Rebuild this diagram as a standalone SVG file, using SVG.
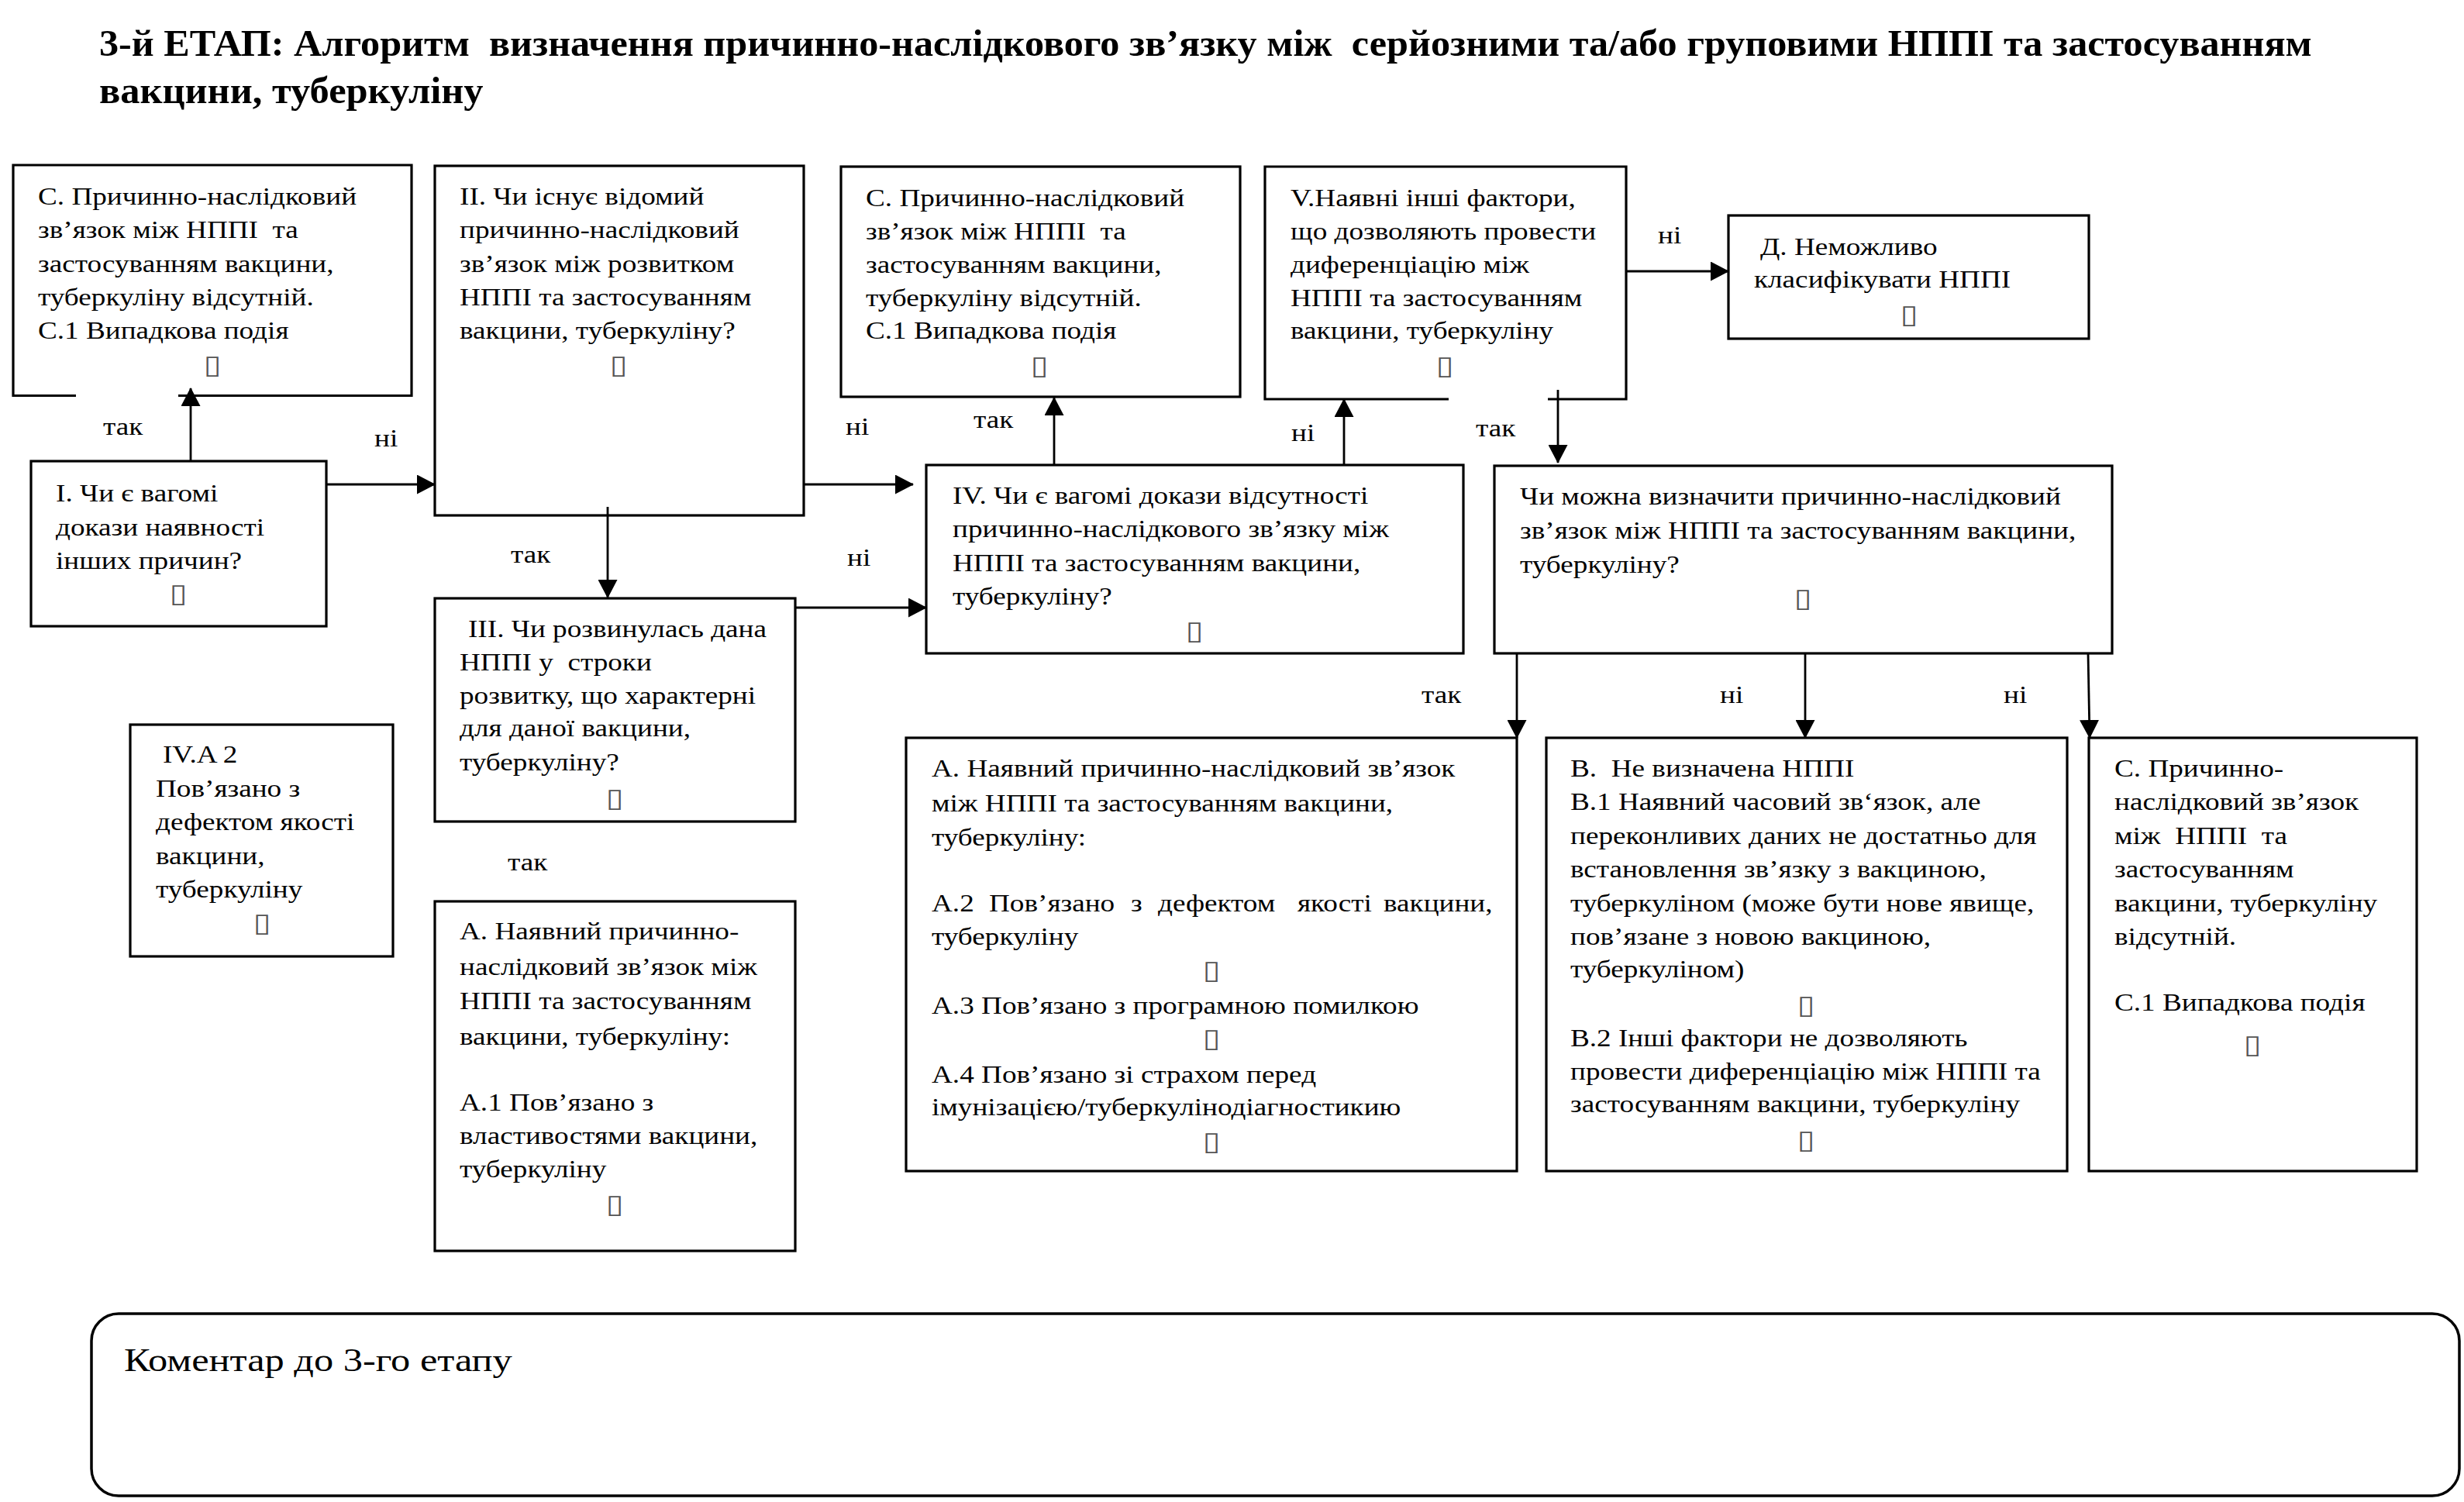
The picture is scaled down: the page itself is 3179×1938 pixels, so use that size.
<svg xmlns="http://www.w3.org/2000/svg" width="3179" height="1938" viewBox="0 0 3179 1938">
<style>
.box{fill:#fff;stroke:#000;stroke-width:3.2}
.conn{fill:none;stroke:#000;stroke-width:2.8;marker-end:url(#ah)}
.t{font-family:"Liberation Serif","Times New Roman",serif;font-size:31px;fill:#000;white-space:pre}
.title{font-weight:bold;font-size:48.5px}
.cm{font-size:42px}
.tofu{font-family:"DejaVu Sans",sans-serif;font-size:34px;fill:#555;text-anchor:middle}
</style>
<defs>
<marker id="ah" viewBox="0 0 24 25" refX="23" refY="12.5" markerWidth="24" markerHeight="25" markerUnits="userSpaceOnUse" orient="auto"><path d="M0,0 L24,12.5 L0,25 z" fill="#000"/></marker>
</defs>
<rect width="3179" height="1938" fill="#fff"/>

<g id="title" transform="scale(1.04,1)">
<text class="t title" x="123.08" y="72" textLength="2745" lengthAdjust="spacingAndGlyphs">3-й ЕТАП: Алгоритм  визначення причинно-наслідкового зв’язку між  серйозними та/або груповими НППІ та застосуванням</text>
<text class="t title" x="123.08" y="133">вакцини, туберкуліну</text>
</g>

<g id="nodeC1">
<path class="box" d="M98,510.5 L17,510.5 L17,213 L531,213 L531,510.5 L230,510.5"/>
<g transform="scale(1.2,1)">
<text class="t" x="40.83" y="264">С. Причинно-наслідковий</text>
<text class="t" x="40.83" y="307.5">зв’язок між НППІ  та</text>
<text class="t" x="40.83" y="351">застосуванням вакцини,</text>
<text class="t" x="40.83" y="394">туберкуліну відсутній.</text>
<text class="t" x="40.83" y="437">С.1 Випадкова подія</text>
<text class="tofu" x="228.33" y="482">▯</text>
</g>
</g>

<g id="nodeII">
<rect class="box" x="561" y="214" width="476" height="451"/>
<g transform="scale(1.2,1)">
<text class="t" x="494.17" y="264">II. Чи існує відомий</text>
<text class="t" x="494.17" y="307.5">причинно-наслідковий</text>
<text class="t" x="494.17" y="351">зв’язок між розвитком</text>
<text class="t" x="494.17" y="394">НППІ та застосуванням</text>
<text class="t" x="494.17" y="437">вакцини, туберкуліну?</text>
<text class="tofu" x="665" y="482">▯</text>
</g>
</g>

<g id="nodeI">
<rect class="box" x="40" y="595" width="381" height="213"/>
<g transform="scale(1.2,1)">
<text class="t" x="60" y="647">I. Чи є вагомі</text>
<text class="t" x="60" y="691">докази наявності</text>
<text class="t" x="60" y="734">інших причин?</text>
<text class="tofu" x="191.67" y="777">▯</text>
</g>
</g>

<g id="nodeIII">
<rect class="box" x="561" y="772" width="465" height="288"/>
<g transform="scale(1.2,1)">
<text class="t" x="503.33" y="822">III. Чи розвинулась дана</text>
<text class="t" x="494.17" y="865">НППІ у  строки</text>
<text class="t" x="494.17" y="908">розвитку, що характерні</text>
<text class="t" x="494.17" y="950">для даної вакцини,</text>
<text class="t" x="494.17" y="994">туберкуліну?</text>
<text class="tofu" x="660.83" y="1041">▯</text>
</g>
</g>

<g id="nodeA1">
<rect class="box" x="561" y="1163" width="465" height="451"/>
<g transform="scale(1.2,1)">
<text class="t" x="494.17" y="1212">А. Наявний причинно-</text>
<text class="t" x="494.17" y="1258">наслідковий зв’язок між</text>
<text class="t" x="494.17" y="1302">НППІ та застосуванням</text>
<text class="t" x="494.17" y="1348">вакцини, туберкуліну:</text>
<text class="t" x="494.17" y="1433">А.1 Пов’язано з</text>
<text class="t" x="494.17" y="1476">властивостями вакцини,</text>
<text class="t" x="494.17" y="1519">туберкуліну</text>
<text class="tofu" x="660.83" y="1565">▯</text>
</g>
</g>

<g id="nodeIVA2">
<rect class="box" x="168" y="935" width="339" height="299"/>
<g transform="scale(1.2,1)">
<text class="t" x="175" y="984">IV.A 2</text>
<text class="t" x="167.5" y="1028">Пов’язано з</text>
<text class="t" x="167.5" y="1071">дефектом якості</text>
<text class="t" x="167.5" y="1115">вакцини,</text>
<text class="t" x="167.5" y="1158">туберкуліну</text>
<text class="tofu" x="281.67" y="1202">▯</text>
</g>
</g>

<g id="nodeC2">
<rect class="box" x="1085" y="215" width="515" height="297"/>
<g transform="scale(1.2,1)">
<text class="t" x="930.83" y="266">С. Причинно-наслідковий</text>
<text class="t" x="930.83" y="309">зв’язок між НППІ  та</text>
<text class="t" x="930.83" y="352">застосуванням вакцини,</text>
<text class="t" x="930.83" y="395">туберкуліну відсутній.</text>
<text class="t" x="930.83" y="437">С.1 Випадкова подія</text>
<text class="tofu" x="1117.5" y="483">▯</text>
</g>
</g>

<g id="nodeV">
<path class="box" d="M1869,515 L1632,515 L1632,215 L2098,215 L2098,515 L1997,515"/>
<g transform="scale(1.2,1)">
<text class="t" x="1387.5" y="266">V.Наявні інші фактори,</text>
<text class="t" x="1387.5" y="309">що дозволяють провести</text>
<text class="t" x="1387.5" y="352">диференціацію між</text>
<text class="t" x="1387.5" y="395">НППІ та застосуванням</text>
<text class="t" x="1387.5" y="437">вакцини, туберкуліну</text>
<text class="tofu" x="1553.33" y="483">▯</text>
</g>
</g>

<g id="nodeD">
<rect class="box" x="2230" y="278" width="465" height="159"/>
<g transform="scale(1.2,1)">
<text class="t" x="1892.5" y="329">Д. Неможливо</text>
<text class="t" x="1885.83" y="371">класифікувати НППІ</text>
<text class="tofu" x="2052.5" y="417">▯</text>
</g>
</g>

<g id="nodeIV">
<rect class="box" x="1195" y="600" width="693" height="243"/>
<g transform="scale(1.2,1)">
<text class="t" x="1024.17" y="650">IV. Чи є вагомі докази відсутності</text>
<text class="t" x="1024.17" y="693">причинно-наслідкового зв’язку між</text>
<text class="t" x="1024.17" y="737">НППІ та застосуванням вакцини,</text>
<text class="t" x="1024.17" y="780">туберкуліну?</text>
<text class="tofu" x="1284.17" y="825">▯</text>
</g>
</g>

<g id="nodeQ">
<rect class="box" x="1928" y="601" width="797" height="242"/>
<g transform="scale(1.2,1)">
<text class="t" x="1634.17" y="651">Чи можна визначити причинно-наслідковий</text>
<text class="t" x="1634.17" y="695">зв’язок між НППІ та застосуванням вакцини,</text>
<text class="t" x="1634.17" y="739">туберкуліну?</text>
<text class="tofu" x="1938.33" y="783">▯</text>
</g>
</g>

<g id="nodeA2">
<rect class="box" x="1169" y="952" width="788" height="559"/>
<g transform="scale(1.2,1)">
<text class="t" x="1001.67" y="1002">А. Наявний причинно-наслідковий зв’язок</text>
<text class="t" x="1001.67" y="1047">між НППІ та застосуванням вакцини,</text>
<text class="t" x="1001.67" y="1091">туберкуліну:</text>
<text class="t" y="1176"><tspan x="1001.67">А.2</tspan><tspan x="1063.33">Пов’язано</tspan><tspan x="1215.83">з</tspan><tspan x="1245">дефектом</tspan><tspan x="1395">якості</tspan><tspan x="1487.5">вакцини,</tspan></text>
<text class="t" x="1001.67" y="1219">туберкуліну</text>
<text class="tofu" x="1302.5" y="1263">▯</text>
<text class="t" x="1001.67" y="1308">А.3 Пов’язано з програмною помилкою</text>
<text class="tofu" x="1302.5" y="1351">▯</text>
<text class="t" x="1001.67" y="1397">А.4 Пов’язано зі страхом перед</text>
<text class="t" x="1001.67" y="1439">імунізацією/туберкулінодіагностикию</text>
<text class="tofu" x="1302.5" y="1484">▯</text>
</g>
</g>

<g id="nodeB">
<rect class="box" x="1995" y="952" width="672" height="559"/>
<g transform="scale(1.2,1)">
<text class="t" x="1688.33" y="1002">В.  Не визначена НППІ</text>
<text class="t" x="1688.33" y="1045">В.1 Наявний часовий зв‘язок, але</text>
<text class="t" x="1688.33" y="1089">переконливих даних не достатньо для</text>
<text class="t" x="1688.33" y="1132">встановлення зв’язку з вакциною,</text>
<text class="t" x="1688.33" y="1176">туберкуліном (може бути нове явище,</text>
<text class="t" x="1688.33" y="1219">пов’язане з новою вакциною,</text>
<text class="t" x="1688.33" y="1261">туберкуліном)</text>
<text class="tofu" x="1941.67" y="1308">▯</text>
<text class="t" x="1688.33" y="1350">В.2 Інші фактори не дозволяють</text>
<text class="t" x="1688.33" y="1393">провести диференціацію між НППІ та</text>
<text class="t" x="1688.33" y="1435">застосуванням вакцини, туберкуліну</text>
<text class="tofu" x="1941.67" y="1482">▯</text>
</g>
</g>

<g id="nodeC3">
<rect class="box" x="2695" y="952" width="423" height="559"/>
<g transform="scale(1.2,1)">
<text class="t" x="2273.33" y="1002">С. Причинно-</text>
<text class="t" x="2273.33" y="1045">наслідковий зв’язок</text>
<text class="t" x="2273.33" y="1089">між  НППІ  та</text>
<text class="t" x="2273.33" y="1132">застосуванням</text>
<text class="t" x="2273.33" y="1176">вакцини, туберкуліну</text>
<text class="t" x="2273.33" y="1219">відсутній.</text>
<text class="t" x="2273.33" y="1304">С.1 Випадкова подія</text>
<text class="tofu" x="2421.67" y="1359">▯</text>
</g>
</g>

<g id="comment">
<rect class="box" x="118" y="1695" width="3055" height="235" rx="35" ry="35" style="stroke-width:3.5"/>
<g transform="scale(1.2,1)">
<text class="t cm" x="133.33" y="1769">Коментар до 3-го етапу</text>
</g>
</g>

<g id="connectors">
<line class="conn" x1="246" y1="595" x2="246" y2="501"/>
<line class="conn" x1="421" y1="625" x2="561" y2="625"/>
<line class="conn" x1="784" y1="654" x2="784" y2="771"/>
<line class="conn" x1="1037" y1="625" x2="1178" y2="625"/>
<line class="conn" x1="1026" y1="784" x2="1195" y2="784"/>
<line class="conn" x1="1360" y1="600" x2="1360" y2="513"/>
<line class="conn" x1="1734" y1="600" x2="1734" y2="515"/>
<line class="conn" x1="2010" y1="503" x2="2010" y2="597"/>
<line class="conn" x1="2098" y1="350" x2="2230" y2="350"/>
<line class="conn" x1="1957" y1="843" x2="1957" y2="952"/>
<line class="conn" x1="2329" y1="843" x2="2329" y2="952"/>
<line class="conn" x1="2694" y1="843" x2="2696" y2="952"/>
<g transform="scale(1.2,1)">
<text class="t" x="110.83" y="561">так</text>
<text class="t" x="402.5" y="576">ні</text>
<text class="t" x="549.17" y="726">так</text>
<text class="t" x="909.17" y="561">ні</text>
<text class="t" x="910.83" y="730">ні</text>
<text class="t" x="1046.67" y="552">так</text>
<text class="t" x="1388.33" y="569">ні</text>
<text class="t" x="1586.67" y="563">так</text>
<text class="t" x="1782.5" y="314">ні</text>
<text class="t" x="545.83" y="1123">так</text>
<text class="t" x="1528.33" y="907">так</text>
<text class="t" x="1849.17" y="907">ні</text>
<text class="t" x="2154.17" y="907">ні</text>
</g>
</g>
</svg>
